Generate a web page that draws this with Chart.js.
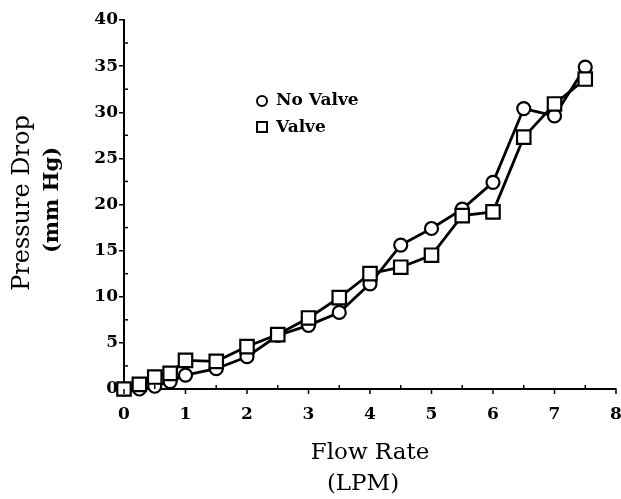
<!DOCTYPE html>
<html><head><meta charset="utf-8">
<script src="https://cdn.jsdelivr.net/npm/chart.js@4"></script>
<style>html,body{margin:0;padding:0;background:#fff}#wrap{width:621px;height:499px}</style>
</head><body><div id="wrap"><canvas id="c" width="621" height="499"></canvas></div>
<script>
const flowRate = [0, 0.25, 0.5, 0.75, 1, 1.5, 2, 2.5, 3, 3.5, 4, 4.5, 5, 5.5, 6, 6.5, 7, 7.5];
const noValve = [0, 0, 0.3, 0.8, 1.5, 2.2, 3.5, 5.8, 6.9, 8.3, 11.4, 15.6, 17.4, 19.5, 22.4, 30.4, 29.6, 34.9];
const valve = [0, 0.5, 1.3, 1.7, 3.1, 3.0, 4.6, 5.9, 7.7, 9.9, 12.5, 13.2, 14.5, 18.8, 19.2, 27.3, 30.9, 33.6];
const seriesLabels = ['No Valve', 'Valve'];
const xTitle = ['Flow Rate', '(LPM)'];
const yTitle = ['Pressure Drop', '(mm Hg)'];

const FONT = '"DejaVu Serif", serif';
const pts = (xs, ys) => xs.map((x, i) => ({x, y: ys[i]}));

const extras = {
  id: 'extras',
  afterDraw(chart) {
    const ctx = chart.ctx, xs = chart.scales.x, ys = chart.scales.y;
    ctx.save();
    ctx.strokeStyle = '#000'; ctx.lineWidth = 1.5;
    // x ticks: major outward, minor inward
    xs.ticks.forEach(t => {
      const px = xs.getPixelForValue(t.value);
      ctx.beginPath(); ctx.moveTo(px, ys.bottom); ctx.lineTo(px, ys.bottom + 5); ctx.stroke();
    });
    for (let v = 0.5; v < 8; v += 1) {
      const px = xs.getPixelForValue(v);
      ctx.beginPath(); ctx.moveTo(px, ys.bottom); ctx.lineTo(px, ys.bottom - 4); ctx.stroke();
    }
    for (let v = 2.5; v < 40; v += 5) {
      const py = ys.getPixelForValue(v);
      ctx.beginPath(); ctx.moveTo(xs.left, py); ctx.lineTo(xs.left + 4, py); ctx.stroke();
    }
    // axis titles
    ctx.fillStyle = '#000'; ctx.textAlign = 'center'; ctx.textBaseline = 'middle';
    ctx.font = '23px ' + FONT;
    ctx.fillText(xTitle[0], 370, 453);
    ctx.fillText(xTitle[1], 363, 484);
    ctx.save();
    ctx.translate(23, 203); ctx.rotate(-Math.PI / 2);
    ctx.font = '24px ' + FONT;
    ctx.fillText(yTitle[0], 0, 0);
    ctx.restore();
    ctx.save();
    ctx.translate(53, 200); ctx.rotate(-Math.PI / 2);
    ctx.font = 'bold 21px ' + FONT;
    ctx.fillText(yTitle[1], 0, 0);
    ctx.restore();
    // legend
    ctx.textAlign = 'left';
    ctx.font = 'bold 17px ' + FONT;
    ctx.lineWidth = 2;
    ctx.fillStyle = '#fff';
    ctx.beginPath(); ctx.arc(262, 101, 5, 0, Math.PI * 2); ctx.fill(); ctx.stroke();
    ctx.fillRect(257, 122, 10, 10); ctx.strokeRect(257, 122, 10, 10);
    ctx.fillStyle = '#000';
    ctx.fillText(seriesLabels[0], 276, 101);
    ctx.fillText(seriesLabels[1], 276, 128);
    ctx.restore();
  }
};

new Chart(document.getElementById('c'), {
  type: 'scatter',
  data: {
    datasets: [
      { label: seriesLabels[0], data: pts(flowRate, noValve), showLine: true, order: 1,
        borderColor: '#000', borderWidth: 2.8, pointStyle: 'circle', pointRadius: 6.5,
        pointBackgroundColor: '#fff', pointBorderColor: '#000', pointBorderWidth: 2.2, clip: false },
      { label: seriesLabels[1], data: pts(flowRate, valve), showLine: true, order: 0,
        borderColor: '#000', borderWidth: 2.8, pointStyle: 'rect', pointRadius: 9.5,
        pointBackgroundColor: '#fff', pointBorderColor: '#000', pointBorderWidth: 2.2, clip: false }
    ]
  },
  options: {
    responsive: false, animation: false,
    layout: { autoPadding: false, padding: { top: 20, right: 5, left: 0, bottom: 0 } },
    plugins: { legend: { display: false }, tooltip: { enabled: false } },
    scales: {
      x: {
        type: 'linear', min: 0, max: 8,
        afterFit: s => { s.height = 110; s.paddingRight = 0; s.paddingLeft = 0; },
        border: { display: true, color: '#000', width: 2 },
        grid: { display: true, drawOnChartArea: false, color: 'rgba(0,0,0,0)', tickColor: 'rgba(0,0,0,0)', tickLength: 15, lineWidth: 1.5 },
        ticks: { stepSize: 1, color: '#000', padding: 0, font: { family: FONT, size: 17, weight: '600' } }
      },
      y: {
        min: 0, max: 40,
        afterFit: s => { s.width = 124; },
        border: { display: true, color: '#000', width: 2 },
        grid: { display: true, drawOnChartArea: false, color: '#000', tickLength: 5, lineWidth: 1.5 },
        ticks: { stepSize: 5, color: '#000', padding: 1, font: { family: FONT, size: 17, weight: '600' } }
      }
    }
  },
  plugins: [extras]
});
</script>
</body></html>
